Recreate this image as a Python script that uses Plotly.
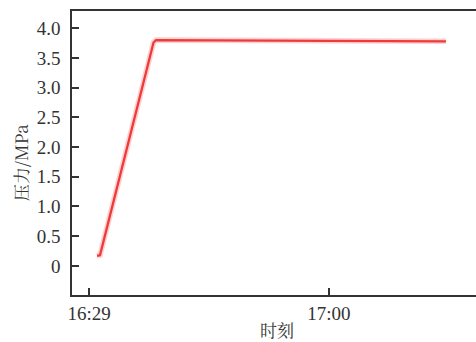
import plotly.graph_objects as go

times = ["2024-01-01 16:30:02", "2024-01-01 16:30:25", "2024-01-01 16:37:20",
         "2024-01-01 16:37:40", "2024-01-01 17:15:07"]
pressure = [0.17, 0.18, 3.76, 3.80, 3.78]
tick_vals = ["2024-01-01 16:29:00", "2024-01-01 17:00:00"]
tick_text = ["16:29", "17:00"]
y_ticks = [0, 0.5, 1.0, 1.5, 2.0, 2.5, 3.0, 3.5, 4.0]
y_tick_text = ["0", "0.5", "1.0", "1.5", "2.0", "2.5", "3.0", "3.5", "4.0"]

fig = go.Figure()
fig.add_trace(go.Scatter(x=times, y=pressure, mode="lines",
                         line=dict(color="rgba(255,100,100,0.3)", width=5.5),
                         hoverinfo="skip", showlegend=False))
fig.add_trace(go.Scatter(x=times, y=pressure, mode="lines",
                         line=dict(color="#ee3a3a", width=2.3),
                         showlegend=False))

serif = "Liberation Serif, Times New Roman, serif"
cjk = "Noto Serif CJK SC, Noto Sans CJK SC, " + serif
fig.update_layout(
    width=476, height=342,
    margin=dict(l=72, r=0, t=11, b=47),
    plot_bgcolor="white", paper_bgcolor="white",
    font=dict(family=serif, size=19, color="#333"),
    xaxis=dict(type="date", range=["2024-01-01 16:26:48", "2024-01-01 17:19:00"],
               tickvals=tick_vals, ticktext=tick_text,
               ticks="inside", ticklen=7, tickwidth=1.5, tickcolor="#333",
               showline=True, linecolor="#333", linewidth=1.5, mirror=True,
               showgrid=False, zeroline=False, ticklabelstandoff=0,
               tickfont=dict(family=serif, size=19, color="#333")),
    yaxis=dict(range=[-0.49, 4.29], tickvals=y_ticks, ticktext=y_tick_text,
               ticks="inside", ticklen=7, tickwidth=1.5, tickcolor="#333",
               showline=True, linecolor="#333", linewidth=1.5,
               showgrid=False, zeroline=False, ticklabelstandoff=6,
               tickfont=dict(family=serif, size=19, color="#333")),
    annotations=[
        dict(text="压力/MPa", x=20, y=163, xref="paper", yref="paper",
             xanchor="center", yanchor="middle",
             showarrow=False, textangle=-90,
             font=dict(family=cjk, size=17, color="#333")),
        dict(text="时刻", x=277, y=329, xref="paper", yref="paper",
             xanchor="center", yanchor="middle",
             showarrow=False,
             font=dict(family=cjk, size=17, color="#333")),
    ],
)
# convert pixel positions of the axis titles to paper coordinates
pw = 476 - 72 - 0
ph = 342 - 11 - 47
for a in fig.layout.annotations:
    px, py = a.x, a.y
    a.x = (px - 72) / pw
    a.y = (342 - 47 - py) / ph

fig.write_html("out.html")
